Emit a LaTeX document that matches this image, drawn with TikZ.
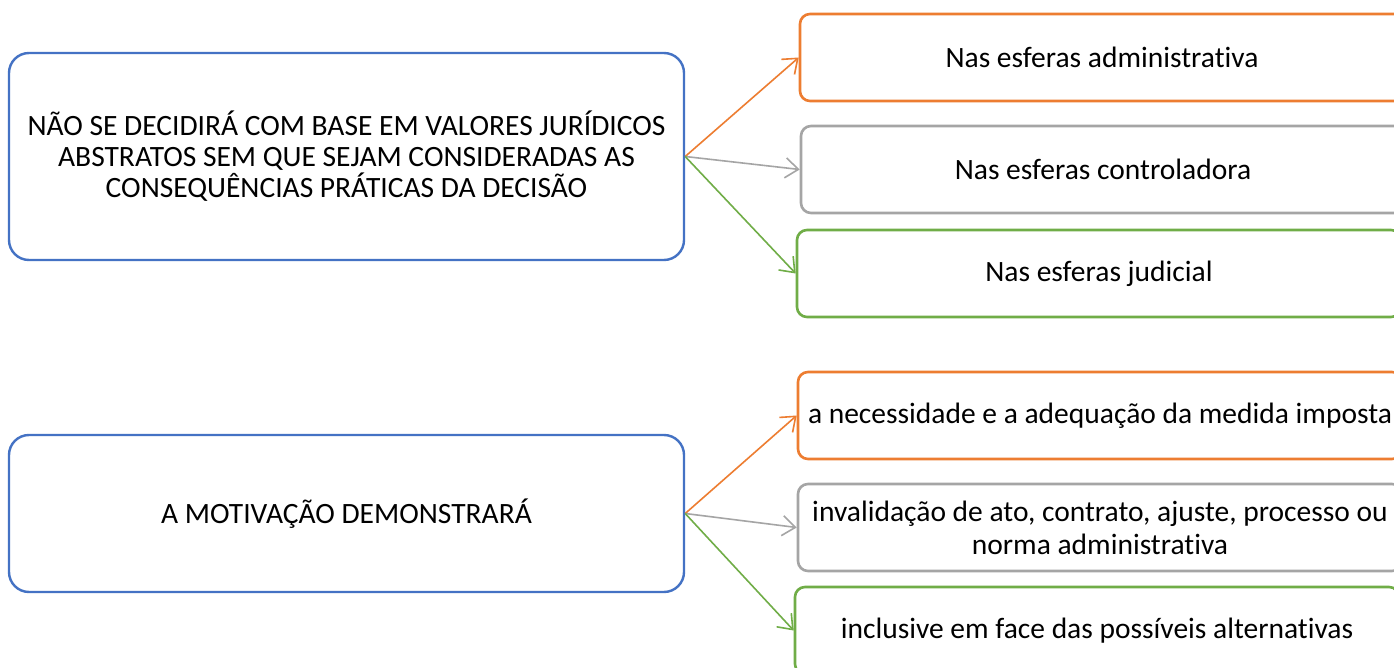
\documentclass[tikz,border=0pt]{standalone}
\usepackage{fontspec}
\setmainfont[RawFeature={-liga}]{Carlito}
\usetikzlibrary{arrows.meta}
\definecolor{cblue}{HTML}{4472C4}
\definecolor{corange}{HTML}{ED7D31}
\definecolor{cgray}{HTML}{A5A5A5}
\definecolor{cgreen}{HTML}{70AD47}
\tikzset{
  leftbox/.style={draw=cblue, line width=2.4pt, rounded corners=20pt, minimum width=675pt, align=center, inner sep=0pt, font=\fontsize{29.5}{31}\selectfont},
  rightbox/.style={draw=#1, line width=2.6pt, rounded corners=10pt, minimum width=604pt, minimum height=87pt, align=center, inner sep=0pt, font=\fontsize{29.5}{33}\selectfont},
  conn/.style={draw=#1, line width=1.6pt, -{Straight Barb[length=13pt,width=20pt,line width=1.6pt]}}
}
\begin{document}
\begin{tikzpicture}[x=1pt,y=-1pt]
\useasboundingbox (0,0) rectangle (1394,668);
\clip (0,0) rectangle (1394,668);
\fill[white] (0,0) rectangle (1394,668);
\node[leftbox, minimum height=207pt] (L1) at (346.5,156.5) {NÃO SE DECIDIRÁ COM BASE EM VALORES JURÍDICOS\\ABSTRATOS SEM QUE SEJAM CONSIDERADAS AS\\CONSEQUÊNCIAS PRÁTICAS DA DECISÃO};
\node[leftbox, minimum height=157pt] (L2) at (346.5,513.5) {A MOTIVAÇÃO DEMONSTRARÁ};
\node[rightbox=corange] (R1) at (1102,57.5) {Nas esferas administrativa};
\node[rightbox=cgray] (R2) at (1103,169.5) {Nas esferas controladora};
\node[rightbox=cgreen] (R3) at (1099,273.5) {Nas esferas judicial};
\node[rightbox=corange] (R4) at (1100,415.5) {a necessidade e a adequação da medida imposta};
\node[rightbox=cgray] (R5) at (1100,527.5) {invalidação de ato, contrato, ajuste, processo ou\\norma administrativa};
\node[rightbox=cgreen] (R6) at (1097,630.5) {inclusive em face das possíveis alternativas};
\draw[conn=corange] (L1.east) -- (R1.west);
\draw[conn=cgray] (L1.east) -- (R2.west);
\draw[conn=cgreen] (L1.east) -- (R3.west);
\draw[conn=corange] (L2.east) -- (R4.west);
\draw[conn=cgray] (L2.east) -- (R5.west);
\draw[conn=cgreen] (L2.east) -- (R6.west);
\end{tikzpicture}
\end{document}
